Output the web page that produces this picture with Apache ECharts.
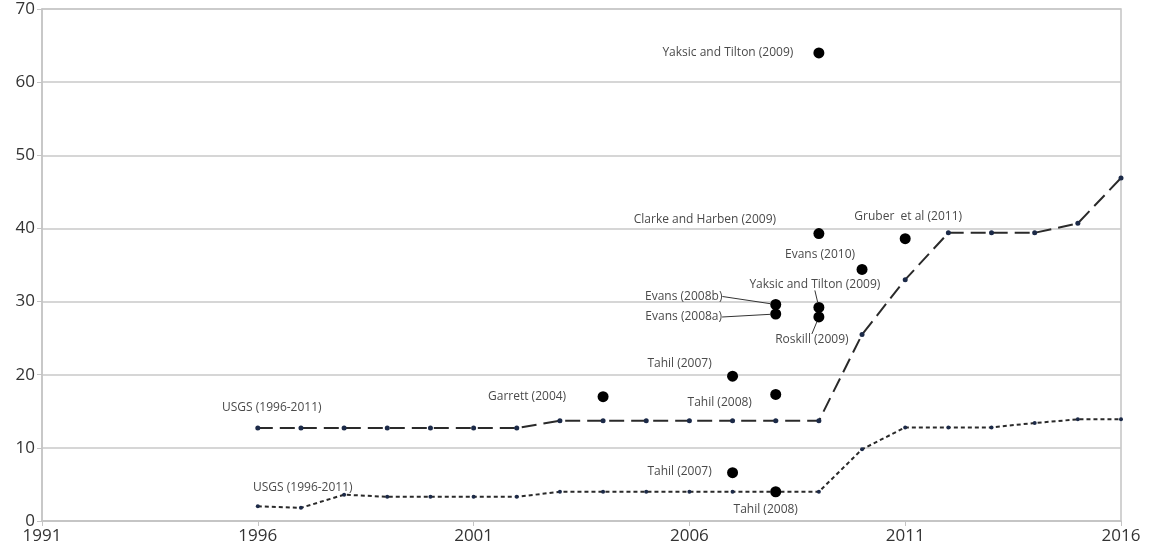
<!DOCTYPE html>
<html>
<head>
<meta charset="utf-8">
<script src="https://cdn.jsdelivr.net/npm/echarts@6/dist/echarts.min.js"></script>
<style>
  html, body { margin: 0; padding: 0; background: #fff; }
  #chart { width: 1153px; height: 559px; }
</style>
</head>
<body>
<div id="chart"></div>
<script>
// x axis runs 1991..2016, stored as years
var BASE_YEAR = 1991;
var years = [1996, 1997, 1998, 1999, 2000, 2001, 2002, 2003, 2004, 2005, 2006,
             2007, 2008, 2009, 2010, 2011, 2012, 2013, 2014, 2015, 2016];
var usgsUpper = [12.7, 12.7, 12.7, 12.7, 12.7, 12.7, 12.7, 13.7, 13.7, 13.7, 13.7,
                 13.7, 13.7, 13.7, 25.5, 33.0, 39.4, 39.4, 39.4, 40.7, 46.9];
var usgsLower = [2.0, 1.8, 3.6, 3.3, 3.3, 3.3, 3.3, 4.0, 4.0, 4.0, 4.0,
                 4.0, 4.0, 4.0, 9.8, 12.8, 12.8, 12.8, 13.4, 13.9, 13.9];
var usgsName = "USGS (1996-2011)";

var estNames = ["Yaksic and Tilton (2009)", "Clarke and Harben (2009)", "Gruber  et al (2011)",
                "Evans (2010)", "Evans (2008b)", "Evans (2008a)", "Yaksic and Tilton (2009)",
                "Roskill (2009)", "Tahil (2007)", "Tahil (2008)", "Garrett (2004)",
                "Tahil (2007)", "Tahil (2008)"];
var estYears = [2009, 2009, 2011, 2010, 2008, 2008, 2009, 2009, 2007, 2008, 2004, 2007, 2008];
var estValues = [64.0, 39.3, 38.6, 34.4, 29.6, 28.3, 29.2, 27.9, 19.8, 17.3, 17.0, 6.6, 4.0];

var yTicks = [0, 10, 20, 30, 40, 50, 60, 70];

// label offsets (px) for each estimate, and whether a leader line is drawn
var labelShift = [[-91, 0], [-114, -14], [3, -22], [-42, -15], [-92, -8], [-92, 3],
                  [-4, -23], [-7, 23], [-53, -13], [-56, 8], [-76, 0], [-53, -1], [-10, 18]];
var leader = [false, false, false, false, true, true, true, true, false, false, false, false, false];

var chart = echarts.init(document.getElementById("chart"));

function toX(y) { return y - BASE_YEAR; }

function lineData(vals, labelOffset) {
  return years.map(function (y, i) {
    var item = { value: [toX(y), vals[i]] };
    if (i === 0) {
      item.label = {
        show: true, formatter: usgsName, position: "inside", offset: labelOffset,
        color: "#4a4a4a", fontSize: 12, fontFamily: "Open Sans"
      };
    }
    return item;
  });
}

var scatterData = estNames.map(function (n, i) {
  return {
    name: n,
    value: [toX(estYears[i]), estValues[i]],
    labelLine: { show: leader[i] }
  };
});

var option = {
  animation: false,
  grid: {
    left: 42, right: 32, top: 9, bottom: 38,
    show: true, borderColor: "#c4c4c4", borderWidth: 1.5
  },
  xAxis: {
    type: "value",
    min: 0, max: 25, interval: 5,
    axisLine: { show: true, lineStyle: { color: "#c4c4c4", width: 1.5 } },
    axisTick: { show: true, length: 5, lineStyle: { color: "#c4c4c4" } },
    splitLine: { show: false },
    axisLabel: {
      formatter: function (v) { return v + BASE_YEAR; },
      color: "#333", fontSize: 17, fontFamily: "Open Sans", margin: 7
    }
  },
  yAxis: {
    type: "value",
    min: yTicks[0], max: yTicks[yTicks.length - 1], interval: 10,
    axisLine: { show: true, lineStyle: { color: "#c4c4c4", width: 1.5 } },
    axisTick: { show: true, length: 5, lineStyle: { color: "#c4c4c4" } },
    splitLine: { show: true, lineStyle: { color: "#c8c8c8", width: 1.5 } },
    axisLabel: { color: "#333", fontSize: 17, fontFamily: "Open Sans", margin: 7 }
  },
  series: [
    {
      name: usgsName, type: "line",
      data: lineData(usgsUpper, [14, -21]),
      symbol: "circle", symbolSize: 5,
      itemStyle: { color: "#1c2a48" },
      lineStyle: { color: "#2a2a2a", width: 2, type: [15, 7] },
      z: 3
    },
    {
      name: usgsName + " low", type: "line",
      data: lineData(usgsLower, [45, -19]),
      symbol: "circle", symbolSize: 4,
      itemStyle: { color: "#1c2a48" },
      lineStyle: { color: "#2a2a2a", width: 2, type: [4, 3] },
      z: 3
    },
    {
      name: "Estimates", type: "scatter",
      data: scatterData,
      symbolSize: 11,
      itemStyle: { color: "#000", opacity: 1 },
      label: {
        show: true, position: "inside", formatter: "{b}",
        color: "#4a4a4a", fontSize: 12, fontFamily: "Open Sans"
      },
      labelLine: { lineStyle: { color: "#333", width: 1 } },
      labelLayout: function (p) {
        var s = labelShift[p.dataIndex];
        return { dx: s[0], dy: s[1] };
      },
      z: 4
    }
  ]
};

chart.setOption(option);
</script>
</body>
</html>
